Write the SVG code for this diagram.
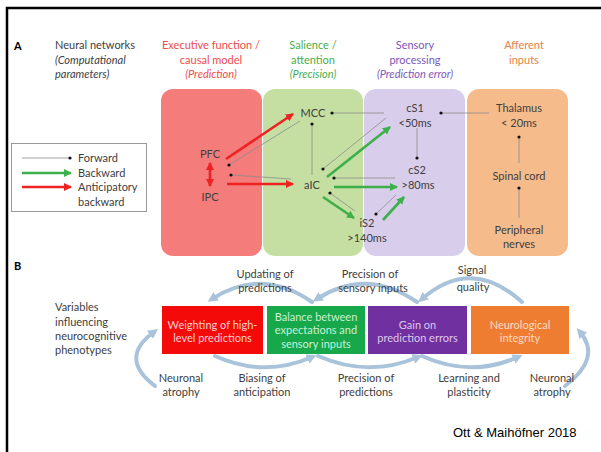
<svg xmlns="http://www.w3.org/2000/svg" width="601" height="452" viewBox="0 0 601 452">
<style>
text{font-family:Lato,"Open Sans","Liberation Sans",sans-serif;font-size:11px;fill:#404040}
.c{text-anchor:middle}
.it{font-style:italic}
.hd{font-weight:bold;font-size:11px;fill:#000}
.red{fill:#ef4b4b}
.grn{fill:#4aae4a}
.pur{fill:#7a58b8}
.org{fill:#e8814a}
.fw{stroke:#8c8c8c;stroke-width:0.8;fill:none;marker-end:url(#dot)}
.bw{stroke:#3db04b;stroke-width:2.6;fill:none;marker-end:url(#ga)}
.an{stroke:#ee2222;stroke-width:2.6;fill:none;marker-end:url(#ra)}
.arc{stroke:#a9c3da;stroke-width:4;fill:none;stroke-linecap:round;marker-end:url(#ba)}
</style>
<defs>
<marker id="dot" viewBox="0 0 4 4" refX="2" refY="2" markerWidth="4" markerHeight="4" markerUnits="userSpaceOnUse"><circle cx="2" cy="2" r="1.6" fill="#111"/></marker>
<marker id="ga" viewBox="0 0 8 8" refX="7" refY="4" markerWidth="8" markerHeight="8" markerUnits="userSpaceOnUse" orient="auto"><path d="M0,0L8,4L0,8z" fill="#3db04b"/></marker>
<marker id="ra" viewBox="0 0 8 8" refX="7" refY="4" markerWidth="8" markerHeight="8" markerUnits="userSpaceOnUse" orient="auto-start-reverse"><path d="M0,0L8,4L0,8z" fill="#ee2222"/></marker>
<marker id="ba" viewBox="0 0 10 10" refX="5" refY="5" markerWidth="10" markerHeight="10" markerUnits="userSpaceOnUse" orient="auto"><path d="M0,0L10,5L0,10z" fill="#a9c3da"/></marker>
</defs>
<rect width="601" height="452" fill="#fff"/>
<path d="M7,452V8H601" fill="none" stroke="#000" stroke-width="2.5"/>

<g id="panelA-headers">
<text class="hd" x="14" y="50">A</text>
<text x="55" y="49">Neural networks</text>
<text class="it" x="55" y="64">(Computational</text>
<text class="it" x="55" y="78">parameters)</text>
<text class="c red" x="211" y="49">Executive function /</text><text class="c red" x="211" y="64">causal model</text><text class="c it red" x="211" y="78">(Prediction)</text>
<text class="c grn" x="313" y="49">Salience /</text><text class="c grn" x="313" y="64">attention</text><text class="c it grn" x="313" y="78">(Precision)</text>
<text class="c pur" x="415" y="49">Sensory</text><text class="c pur" x="415" y="64">processing</text><text class="c it pur" x="415" y="78">(Prediction error)</text>
<text class="c org" x="524" y="49">Afferent</text><text class="c org" x="524" y="64">inputs</text>
</g>
<g id="columns">
<rect x="161" y="89" width="101" height="167" rx="12" fill="#f47c7a"/>
<rect x="263" y="89" width="100" height="167" rx="12" fill="#c5dfa2"/>
<rect x="364" y="89" width="101" height="167" rx="12" fill="#d8cdea"/>
<rect x="467" y="89" width="101" height="167" rx="12" fill="#f6bb8b"/>
</g>
<g id="legend">
<rect x="11.5" y="143.5" width="135" height="68" fill="#fff" stroke="#999" stroke-width="1"/>
<line class="fw" x1="22" y1="158" x2="70" y2="158"/>
<line class="bw" x1="22" y1="173" x2="71" y2="173"/>
<line class="an" x1="22" y1="187" x2="71" y2="187"/>
<text x="78" y="162">Forward</text>
<text x="78" y="177">Backward</text>
<text x="78" y="191">Anticipatory</text>
<text x="78" y="206">backward</text>
</g>
<g id="connectors">
<line class="fw" x1="489" y1="113" x2="441" y2="113"/>
<line class="fw" x1="384" y1="113" x2="332" y2="113"/>
<line class="fw" x1="386" y1="118" x2="323" y2="169"/>
<line class="fw" x1="300" y1="121" x2="229" y2="165"/>
<line class="fw" x1="291" y1="179" x2="231" y2="175"/>
<line class="fw" x1="312" y1="175" x2="312" y2="124"/>
<line class="fw" x1="395" y1="178" x2="334" y2="178"/>
<line class="fw" x1="355" y1="211" x2="330" y2="193"/>
<line class="fw" x1="417" y1="128" x2="417" y2="158"/>
<line class="fw" x1="396" y1="195" x2="376" y2="214"/>
<line class="fw" x1="519" y1="163" x2="519" y2="137"/>
<line class="fw" x1="519" y1="218" x2="519" y2="188"/>
<line class="bw" x1="327" y1="177" x2="390" y2="127"/>
<line class="bw" x1="334" y1="187" x2="397" y2="187"/>
<line class="bw" x1="323" y1="197" x2="354" y2="218"/>
<line class="bw" x1="383" y1="220" x2="404" y2="197"/>
<line class="an" x1="226" y1="159" x2="293" y2="114"/>
<line class="an" x1="227" y1="184" x2="293" y2="184"/>
<line class="an" x1="210" y1="163" x2="210" y2="186" marker-start="url(#ra)"/>
</g>
<g id="n-MCC"><text class="c" x="313" y="117">MCC</text></g>
<g id="n-PFC"><text class="c" x="210" y="158">PFC</text></g>
<g id="n-IPC"><text class="c" x="210" y="201">IPC</text></g>
<g id="n-aIC"><text class="c" x="312" y="189">aIC</text></g>
<g id="n-iS2"><text class="c" x="367" y="227">iS2</text><text class="c" x="367" y="242">&gt;140ms</text></g>
<g id="n-cS1"><text class="c" x="415" y="112">cS1</text><text class="c" x="415" y="127">&lt;50ms</text></g>
<g id="n-cS2"><text class="c" x="417" y="174">cS2</text><text class="c" x="418" y="189">&gt;80ms</text></g>
<g id="n-Thalamus"><text class="c" x="519" y="112">Thalamus</text><text class="c" x="519" y="127">&lt; 20ms</text></g>
<g id="n-Spinal"><text class="c" x="519" y="180">Spinal cord</text></g>
<g id="n-Peripheral"><text class="c" x="519" y="234">Peripheral</text><text class="c" x="519" y="248">nerves</text></g>

<g id="panelB">
<text class="hd" x="14" y="270">B</text>
<text x="55" y="311">Variables</text>
<text x="55" y="326">influencing</text>
<text x="55" y="340">neurocognitive</text>
<text x="55" y="354">phenotypes</text>
</g>
<g id="b-arcs">
<path class="arc" d="M312,302Q262,267 212,299"/>
<path class="arc" d="M417,302Q366,267 317,299"/>
<path class="arc" d="M522,302Q471,256 422,299"/>
<path class="arc" d="M215,356Q264,378 312,357"/>
<path class="arc" d="M318,356Q369,378 418,357"/>
<path class="arc" d="M422,356Q471,378 518,357"/>
<path class="arc" d="M155,386Q118,358 154,332"/>
<path class="arc" d="M565,386Q602,358 580,332"/>
</g>
<g id="b-weighting"><rect x="162" y="306" width="101" height="48" fill="#f50a0a"/><text class="c" x="212.5" y="329" style="fill:#ffd0d0">Weighting of high-</text><text class="c" x="212.5" y="342" style="fill:#ffd0d0">level predictions</text></g>
<g id="b-balance"><rect x="267" y="306" width="98" height="48" fill="#17a84c"/><text class="c" x="316" y="321" style="fill:#c8f0d4">Balance between</text><text class="c" x="316" y="334" style="fill:#c8f0d4">expectations and</text><text class="c" x="316" y="348" style="fill:#c8f0d4">sensory inputs</text></g>
<g id="b-gain"><rect x="368" y="306" width="99" height="48" fill="#7030a0"/><text class="c" x="417.5" y="329" style="fill:#dcc8ee">Gain on</text><text class="c" x="417.5" y="342" style="fill:#dcc8ee">prediction errors</text></g>
<g id="b-integrity"><rect x="471" y="306" width="98" height="48" fill="#ee7d32"/><text class="c" x="520" y="329" style="fill:#ffdcc0">Neurological</text><text class="c" x="520" y="342" style="fill:#ffdcc0">integrity</text></g>
<g id="b-labels">
<text class="c" x="265" y="278">Updating of</text><text class="c" x="265" y="292">predictions</text>
<text class="c" x="370" y="278">Precision of</text><text class="c" x="373" y="292">sensory inputs</text>
<text class="c" x="472" y="274">Signal</text><text class="c" x="473" y="291">quality</text>
<text class="c" x="181" y="382">Neuronal</text><text class="c" x="181" y="396">atrophy</text>
<text class="c" x="262" y="382">Biasing of</text><text class="c" x="262" y="396">anticipation</text>
<text class="c" x="366" y="382">Precision of</text><text class="c" x="366" y="396">predictions</text>
<text class="c" x="469" y="382">Learning and</text><text class="c" x="469" y="396">plasticity</text>
<text class="c" x="552" y="382">Neuronal</text><text class="c" x="552" y="396">atrophy</text>
</g>
<text x="453" y="437" style="font-family:'Liberation Sans',Arial,sans-serif;font-size:13px;fill:#000">Ott &amp; Maihöfner 2018</text>
</svg>
